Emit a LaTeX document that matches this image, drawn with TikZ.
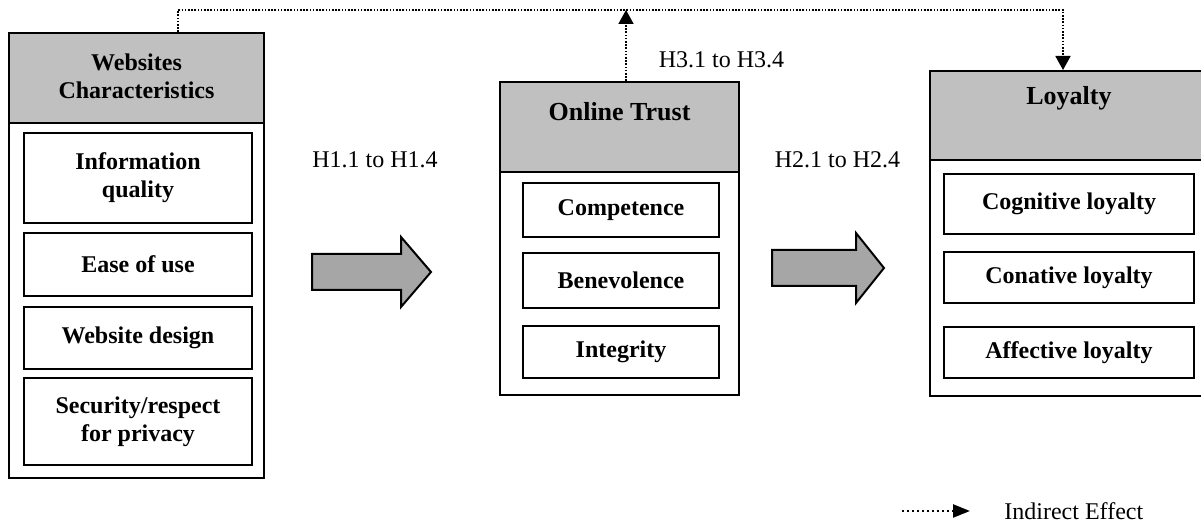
\documentclass[tikz,border=0pt]{standalone}
\usepackage{fontspec}
\setmainfont{Liberation Serif}
\usetikzlibrary{arrows.meta,calc}
\definecolor{headgray}{RGB}{192,192,192}
\definecolor{arrowgray}{RGB}{166,166,166}
\tikzset{
  box/.style={draw, line width=1pt, inner sep=0pt},
  headbox/.style={box, fill=headgray},
  itembox/.style={box, align=center, font=\fontsize{12}{14}\selectfont\bfseries},
  title/.style={align=center, inner sep=0pt, font=\fontsize{13}{15}\selectfont\bfseries},
  hyp/.style={inner sep=0pt, font=\fontsize{12}{14}\selectfont},
  indirect/.style={line width=0.9pt, dash pattern=on 0.8pt off 0.8pt, -{Triangle[length=7pt,width=7.5pt]}},
  bigarrow/.style={draw, line width=1pt, fill=arrowgray, line join=miter},
}
\begin{document}
\begin{tikzpicture}[x=0.5pt, y=-0.5pt]
\def\Rect#1#2#3#4#5#6#7{
\node[#1, minimum width={(#4-#2)*0.5pt}, minimum height={(#5-#3)*0.5pt}] (#6) at ({(#2+#4)/2},{(#3+#5)/2}) {#7};
}
\def\BlockArrow#1#2#3#4{
\draw[bigarrow] (#1,#4-18) -- (#2,#4-18) -- (#2,#4-35) -- (#3,#4) -- (#2,#4+35) -- (#2,#4+18) -- (#1,#4+18) -- cycle;
}
\useasboundingbox (0,0) rectangle (1201,523);

% websites characteristics
\Rect{box}{9}{33}{264}{478}{ws}{}
\Rect{headbox}{9}{33}{264}{123}{wshead}{}
\node[title, font=\fontsize{12}{14}\selectfont\bfseries] (wstitle) at (136.5,76) {Websites\\Characteristics};
\foreach \ya/\yb/\nm/\txt in {133/223/iq/{Information\\quality}, 233/296/eou/{Ease of use},
  307/369/wd/{Website design}, 378/465/sec/{Security/respect\\for privacy}}
  {
    \Rect{itembox}{24}{\ya}{252}{\yb}{\nm}{\txt}
  }

% online trust
\Rect{box}{500}{82}{739}{395}{trust}{}
\Rect{headbox}{500}{82}{739}{172}{trusthead}{}
\node[title] (trusttitle) at (619.5,112) {Online Trust};
\foreach \ya/\yb/\nm/\txt in {183/237/comp/Competence, 253/308/bene/Benevolence, 326/378/integ/Integrity}
  {
    \Rect{itembox}{523}{\ya}{719}{\yb}{\nm}{\txt}
  }

% loyalty
\Rect{box}{930}{71}{1208}{396}{loy}{}
\Rect{headbox}{930}{71}{1208}{160}{loyhead}{}
\node[title] (loytitle) at (1069,98) {Loyalty};
\foreach \ya/\yb/\nm/\txt in {174/234/cog/{Cognitive loyalty}, 252/303/con/{Conative loyalty}, 327/378/aff/{Affective loyalty}}
  {
    \Rect{itembox}{944}{\ya}{1194}{\yb}{\nm}{\txt}
  }

% direct effects
\BlockArrow{312}{401}{431}{272}
\BlockArrow{772}{856}{884}{268}
\node[hyp] (h1) at (375,160) {H1.1 to H1.4};
\node[hyp] (h2) at (837.5,160) {H2.1 to H2.4};
\node[hyp] (h3) at (721.5,60) {H3.1 to H3.4};

% indirect effect
\draw[indirect] ($(wshead.north)+(41.5,0)$) -- ++(0,-22) -| ($(loyhead.north)+(-6,0)$);
\draw[indirect] ($(trusthead.north)+(6.5,0)$) -- ++(0,-71);

% legend
\node[hyp, anchor=west] (legend) at (1004,511) {Indirect Effect};
\coordinate (legstart) at (902,511);
\draw[indirect, line width=1.2pt, dash pattern=on 1.2pt off 1.3pt, -{Triangle[length=8.5pt,width=6.5pt]}] (legstart) -- ($(legend.west)+(-34,0)$);
\end{tikzpicture}
\end{document}
